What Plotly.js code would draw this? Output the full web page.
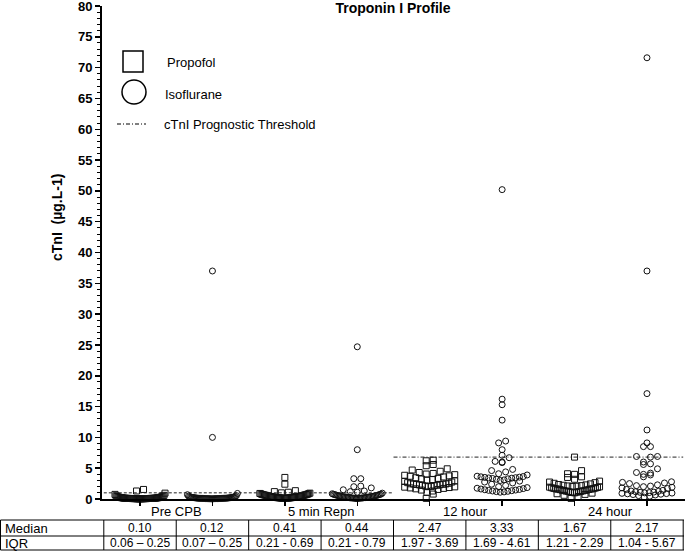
<!DOCTYPE html>
<html>
<head>
<meta charset="utf-8">
<script src="https://cdn.plot.ly/plotly-3.0.1.min.js"></script>
<style>
  body { margin: 0; background: #fff; }
  #chart { width: 685px; height: 551px; }
</style>
</head>
<body>
<div id="chart"></div>
<script>
// group labels and x positions (propofol left, isoflurane right)
var groups = ['Pre CPB', '5 min Repn', '12 hour', '24 hour'];
var group_mid = [1.5, 3.5, 5.5, 7.5];
var propofol_pos = [1, 3, 5, 7];
var iso_pos = [2, 4, 6, 8];

// cTnI values (ug/L)
var propofol_pre = [0.02,0.03,0.03,0.04,0.04,0.05,0.05,0.05,0.06,0.06,0.06,0.06,
  0.07,0.07,0.07,0.08,0.08,0.08,0.09,0.09,0.09,0.10,0.10,0.10,0.10,
  0.11,0.12,0.12,0.13,0.14,0.15,0.16,0.18,0.19,0.21,0.23,0.25,
  0.26,0.28,0.30,0.33,0.36,0.40,0.45,0.52,0.60,0.75,0.95,1.30,1.55];
var iso_pre = [0.02,0.03,0.03,0.04,0.04,0.05,0.05,0.06,0.06,0.06,0.07,0.07,
  0.07,0.08,0.08,0.08,0.09,0.09,0.10,0.10,0.10,0.11,0.11,0.12,0.12,
  0.13,0.13,0.14,0.15,0.16,0.17,0.18,0.19,0.20,0.22,0.23,0.25,
  0.26,0.28,0.30,0.32,0.35,0.38,0.42,0.48,0.55,0.70,0.90,10.0,37.0];
var propofol_5min = [0.08,0.10,0.12,0.13,0.14,0.15,0.16,0.17,0.18,0.19,0.20,0.21,
  0.22,0.24,0.25,0.27,0.28,0.30,0.32,0.33,0.35,0.36,0.38,0.40,0.41,
  0.43,0.45,0.47,0.50,0.52,0.55,0.57,0.60,0.62,0.64,0.67,0.69,
  0.71,0.74,0.78,0.82,0.86,0.90,0.95,1.00,1.10,1.20,1.35,2.40,3.50];
var iso_5min = [0.06,0.08,0.10,0.12,0.13,0.14,0.15,0.16,0.17,0.18,0.20,0.21,
  0.22,0.24,0.26,0.28,0.30,0.31,0.33,0.35,0.37,0.39,0.41,0.43,0.44,
  0.46,0.48,0.51,0.54,0.57,0.60,0.63,0.66,0.70,0.73,0.76,0.79,
  0.85,0.95,1.10,1.20,1.30,1.50,1.80,2.00,2.10,3.30,3.30,8.00,24.7];
var propofol_12h = [0.10,0.80,1.10,1.30,1.45,1.55,1.65,1.72,1.80,1.86,1.92,1.97,
  2.00,2.05,2.10,2.15,2.20,2.24,2.28,2.32,2.36,2.40,2.43,2.45,2.47,
  2.55,2.65,2.75,2.85,2.95,3.05,3.15,3.25,3.35,3.45,3.58,3.69,
  3.75,3.85,3.95,4.05,4.15,4.30,4.50,4.70,4.90,5.40,5.60,6.20,6.30];
var iso_12h = [1.10,1.15,1.20,1.25,1.30,1.35,1.40,1.45,1.50,1.55,1.62,1.69,
  1.75,1.85,2.00,2.20,2.40,2.60,2.75,2.90,3.00,3.10,3.20,3.28,3.33,
  3.38,3.42,3.46,3.50,3.55,3.60,3.65,3.70,3.90,4.10,4.40,4.61,
  4.80,5.90,6.00,6.10,6.70,7.10,8.00,9.10,9.40,12.8,15.3,16.2,50.2];
var propofol_24h = [0.10,0.40,0.60,0.75,0.85,0.95,1.00,1.05,1.10,1.14,1.18,1.21,
  1.24,1.28,1.32,1.36,1.40,1.44,1.48,1.52,1.56,1.60,1.63,1.65,1.67,
  1.72,1.77,1.82,1.87,1.92,1.97,2.02,2.07,2.12,2.17,2.23,2.29,
  2.35,2.45,2.55,2.65,2.75,2.90,3.20,3.50,3.60,4.00,4.10,4.60,6.80];
var iso_24h = [0.30,0.45,0.55,0.65,0.72,0.78,0.84,0.88,0.92,0.96,1.00,1.04,
  1.08,1.12,1.18,1.24,1.30,1.40,1.55,1.70,1.80,1.90,2.00,2.10,2.17,
  2.30,2.50,2.60,2.70,2.80,3.60,3.90,4.00,4.20,4.30,4.90,5.60,
  5.70,6.00,6.80,6.90,6.90,8.50,8.50,9.10,11.2,17.1,37.0,71.6];

// prognostic thresholds
var thr_early_x = [0.5, 4.5], thr_early_y = [1.0, 1.0];
var thr_late_x = [4.5, 8.5], thr_late_y = [6.8, 6.8];

// table under the axis, one entry per column position 1..8
var table_rows = ['Median', 'IQR'];
var table_median = ['0.10', '0.12', '0.41', '0.44', '2.47', '3.33', '1.67', '2.17'];
var table_iqr = ['0.06 \u2013 0.25', '0.07 \u2013 0.25', '0.21 - 0.69', '0.21 - 0.79',
  '1.97 - 3.69', '1.69 - 4.61', '1.21 - 2.29', '1.04 - 5.67'];
var table_pos = [1, 2, 3, 4, 5, 6, 7, 8];

var FONT = 'Liberation Sans, Arial, sans-serif';
var PX_PER_X = 72.4;

// simple binned swarm: each 1-unit bin is a row, lowest values in the middle
function swarm(vals, center) {
  var bins = new Map();
  vals.forEach(function (v) {
    var b = Math.floor(v / 1.0);
    if (!bins.has(b)) bins.set(b, []);
    bins.get(b).push(v);
  });
  var xs = [], ys = [];
  bins.forEach(function (list) {
    list.sort(function (a, b) { return a - b; });
    var n = list.length;
    var step = n > 1 ? Math.min(7, 50 / (n - 1)) : 0;
    var slots = [];
    for (var i = 0; i < n; i++) slots.push(i - (n - 1) / 2);
    slots.sort(function (a, b) { return Math.abs(a) - Math.abs(b) || a - b; });
    list.forEach(function (v, k) {
      xs.push(center + slots[k] * step / PX_PER_X);
      ys.push(v);
    });
  });
  return {x: xs, y: ys};
}

var propofol_sets = [propofol_pre, propofol_5min, propofol_12h, propofol_24h];
var iso_sets = [iso_pre, iso_5min, iso_12h, iso_24h];

var data = [];
propofol_sets.forEach(function (vals, i) {
  var s = swarm(vals, propofol_pos[i]);
  data.push({x: s.x, y: s.y, type: 'scatter', mode: 'markers', showlegend: false, cliponaxis: false,
    marker: {symbol: 'square-open', size: 6, color: '#111', line: {width: 1}}});
});
iso_sets.forEach(function (vals, i) {
  var s = swarm(vals, iso_pos[i]);
  data.push({x: s.x, y: s.y, type: 'scatter', mode: 'markers', showlegend: false, cliponaxis: false,
    marker: {symbol: 'circle-open', size: 6, color: '#111', line: {width: 1}}});
});
data.push({x: thr_early_x, y: thr_early_y, type: 'scatter', mode: 'lines', showlegend: false,
  line: {color: '#222', width: 1, dash: '3px,2px'}});
data.push({x: thr_late_x, y: thr_late_y, type: 'scatter', mode: 'lines', showlegend: false,
  line: {color: '#222', width: 1, dash: '4px,2px,1px,2px'}});

// pixel helpers for paper coords (margin l=0, t=6, b=0)
function px(x) { return x / 685; }
function py(y) { return (551 - y) / 545; }

var annotations = groups.map(function (g, i) {
  return {text: g, x: group_mid[i], xref: 'x', y: py(512), yref: 'paper', showarrow: false,
    xanchor: 'center', yanchor: 'middle', font: {family: FONT, size: 13, color: 'black'}};
});
annotations.push({text: 'cTnI  (\u00b5g.L-1)', textangle: -90, x: px(57), y: py(218),
  xref: 'paper', yref: 'paper', showarrow: false, xanchor: 'center', yanchor: 'middle',
  font: {family: FONT, size: 14, color: 'black', weight: 'bold'}});
[['Propofol', 165, 63], ['Isoflurane', 163, 94], ['cTnI Prognostic Threshold', 162, 124]].forEach(function (l) {
  annotations.push({text: l[0], x: px(l[1]), y: py(l[2]), xref: 'paper', yref: 'paper',
    xanchor: 'left', yanchor: 'middle', showarrow: false, font: {family: FONT, size: 13, color: 'black'}});
});

// table text
var row_y = [py(528), py(543)];
table_rows.forEach(function (r, j) {
  annotations.push({text: r, x: px(3), y: row_y[j], xref: 'paper', yref: 'paper', showarrow: false,
    xanchor: 'left', yanchor: 'middle', font: {family: FONT, size: 13, color: 'black'}});
});
[table_median, table_iqr].forEach(function (row, j) {
  row.forEach(function (v, i) {
    annotations.push({text: v, x: table_pos[i], xref: 'x', y: row_y[j], yref: 'paper', showarrow: false,
      xanchor: 'center', yanchor: 'middle', font: {family: FONT, size: 12, color: 'black'}});
  });
});

var shapes = [
  {type: 'rect', xref: 'paper', yref: 'paper', x0: px(123), x1: px(143), y0: py(72), y1: py(51),
    line: {color: 'black', width: 1.5}},
  {type: 'circle', xref: 'paper', yref: 'paper', x0: px(122), x1: px(146), y0: py(104), y1: py(80),
    line: {color: 'black', width: 1.5}},
  {type: 'line', xref: 'paper', yref: 'paper', x0: px(117), x1: px(146), y0: py(124), y1: py(124),
    line: {color: 'black', width: 1, dash: '4px,2px,1px,2px'}}
];
// table grid
[520, 536, 550].forEach(function (yy) {
  shapes.push({type: 'line', xref: 'paper', yref: 'paper', x0: px(0.5), x1: px(684),
    y0: py(yy), y1: py(yy), line: {color: 'black', width: 1}});
});
shapes.push({type: 'line', xref: 'paper', yref: 'paper', x0: px(0.5), x1: px(0.5),
  y0: py(520), y1: py(550), line: {color: 'black', width: 1}});
table_pos.concat([9]).forEach(function (p) {
  shapes.push({type: 'line', xref: 'x', yref: 'paper', x0: p - 0.5, x1: p - 0.5,
    y0: py(520), y1: py(550), line: {color: 'black', width: 1}});
});

var layout = {
  width: 685, height: 551,
  margin: {l: 0, r: 0, t: 6, b: 0},
  paper_bgcolor: 'white', plot_bgcolor: 'white',
  hovermode: false,
  title: {text: '<b>Troponin I Profile</b>', x: 393 / 685, y: 1 - 8 / 551, xanchor: 'center', yanchor: 'middle',
    font: {family: FONT, size: 14, color: 'black'}},
  xaxis: {domain: [102 / 685, 1], range: [0.475, 8.525], showline: true, linewidth: 2, linecolor: 'black',
    tickvals: [1, 2, 3, 4, 5, 6, 7, 8], showticklabels: false, ticks: 'outside', ticklen: 5,
    tickwidth: 1.5, tickcolor: 'black', showgrid: false, zeroline: false, automargin: false},
  yaxis: {domain: [(551 - 499) / 545, 1], range: [0, 80], dtick: 5, tick0: 0,
    showline: true, linewidth: 2, linecolor: 'black', ticks: 'outside', ticklen: 5,
    tickwidth: 1.5, tickcolor: 'black', showgrid: false, zeroline: false, automargin: false,
    ticklabeloverflow: 'allow',
    tickfont: {family: FONT, size: 13, color: 'black', weight: 'bold'},
    minor: {dtick: 1, ticks: 'outside', ticklen: 3, tickwidth: 1, tickcolor: 'black'}},
  annotations: annotations,
  shapes: shapes
};

Plotly.newPlot('chart', data, layout, {displayModeBar: false, staticPlot: true});
</script>
</body>
</html>
